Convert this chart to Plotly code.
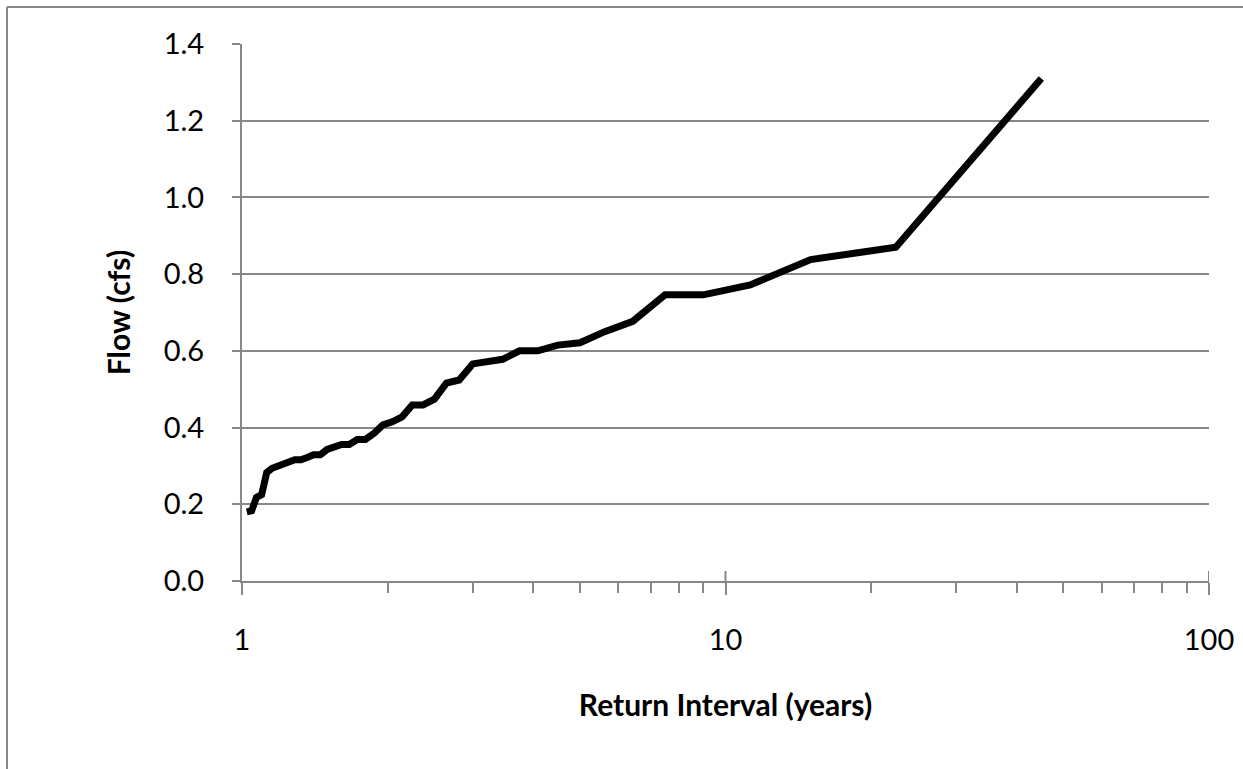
import plotly.graph_objects as go

# Flood-frequency curve: return interval (years) vs. annual peak flow (cfs)
return_interval = [45.0, 22.5, 15.0, 11.25, 9.0, 7.5, 6.43, 5.625, 5.0, 4.5, 4.09,
                   3.75, 3.46, 3.21, 3.0, 2.8125, 2.647, 2.5, 2.368, 2.25, 2.143,
                   2.045, 1.957, 1.875, 1.8, 1.731, 1.667, 1.607, 1.552, 1.5, 1.452,
                   1.406, 1.364, 1.324, 1.286, 1.25, 1.216, 1.184, 1.154, 1.125,
                   1.098, 1.071, 1.047, 1.023]
flow_cfs = [1.31, 0.87, 0.838, 0.772, 0.746, 0.746, 0.677, 0.65, 0.621, 0.615, 0.60,
            0.60, 0.578, 0.573, 0.566, 0.524, 0.516, 0.474, 0.459, 0.459, 0.428,
            0.415, 0.407, 0.385, 0.369, 0.369, 0.356, 0.356, 0.350, 0.343, 0.329,
            0.329, 0.322, 0.316, 0.316, 0.310, 0.304, 0.300, 0.294, 0.283,
            0.225, 0.218, 0.183, 0.180]

y_ticks = [0.0, 0.2, 0.4, 0.6, 0.8, 1.0, 1.2, 1.4]
y_tick_text = ["0.0", "0.2", "0.4", "0.6", "0.8", "1.0", "1.2", "1.4"]
x_ticks = [1, 10, 100]
x_tick_text = ["1", "10", "100"]

GRID = "#878787"
FONT = "Lato, Calibri, 'Liberation Sans', sans-serif"

fig = go.Figure(
    go.Scatter(
        x=return_interval,
        y=flow_cfs,
        mode="lines",
        line=dict(color="black", width=7, shape="linear"),
        hoverinfo="x+y",
    )
)

W, H = 1243, 769
L, R, T, B = 242, 34, 44, 188
pw, ph = W - L - R, H - T - B

# major x ticks cross the axis line: short stubs above the axis
tick_stubs = [
    dict(type="line", xref="x", yref="paper", x0=v, x1=v, y0=0, y1=10 / ph,
         line=dict(color=GRID, width=2))
    for v in x_ticks[1:]
]

fig.update_layout(
    width=W,
    height=H,
    margin=dict(l=L, r=R, t=T, b=B, autoexpand=False),
    paper_bgcolor="white",
    plot_bgcolor="white",
    showlegend=False,
    font=dict(family=FONT, color="black", size=29),
    xaxis=dict(
        type="log",
        range=[0, 2],
        automargin=False,
        tickvals=x_ticks,
        ticktext=x_tick_text,
        ticks="outside",
        ticklen=12,
        tickwidth=2,
        tickcolor=GRID,
        ticklabelstandoff=20,
        showgrid=False,
        showline=True,
        linecolor=GRID,
        linewidth=2,
        zeroline=False,
        minor=dict(ticks="outside", ticklen=10, tickwidth=2, tickcolor=GRID,
                   dtick="D1", showgrid=False),
        title=dict(text="<b>Return Interval (years)</b>", font=dict(size=30), standoff=40),
        tickfont=dict(size=29),
    ),
    yaxis=dict(
        range=[0, 1.4],
        automargin=False,
        tickvals=y_ticks,
        ticktext=y_tick_text,
        ticks="outside",
        ticklen=8,
        tickwidth=2,
        tickcolor=GRID,
        ticklabelstandoff=22,
        showgrid=True,
        gridcolor=GRID,
        gridwidth=2,
        showline=True,
        linecolor=GRID,
        linewidth=2,
        zeroline=False,
        title=dict(text="<b>Flow (cfs)</b>", font=dict(size=30), standoff=24),
        tickfont=dict(size=29),
    ),
    shapes=tick_stubs + [
        # chart-area border (top and left edges visible in frame)
        dict(type="line", xref="paper", yref="paper",
             x0=(7 - L) / pw, x1=(W + 5 - L) / pw,
             y0=(H - B - 7) / ph, y1=(H - B - 7) / ph,
             line=dict(color=GRID, width=2)),
        dict(type="line", xref="paper", yref="paper",
             x0=(7 - L) / pw, x1=(7 - L) / pw,
             y0=(H - B - 7) / ph, y1=(H - B - H - 5) / ph,
             line=dict(color=GRID, width=2)),
    ],
)

fig.write_html("out.html")
